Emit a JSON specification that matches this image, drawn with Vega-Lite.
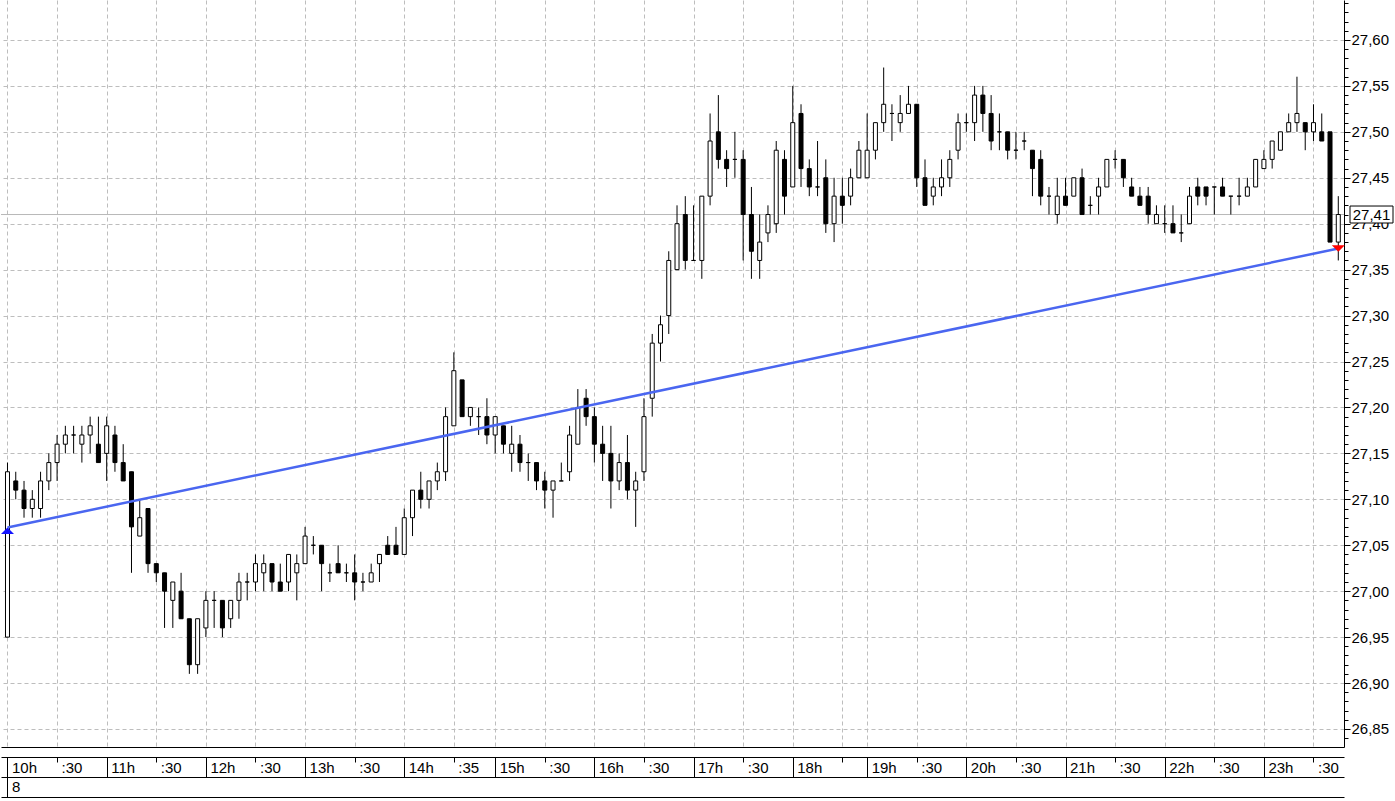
{
 "$schema": "https://vega.github.io/schema/vega-lite/v6.json",
 "width": 1343,
 "height": 747,
 "padding": 0,
 "background": "white",
 "config": {
  "view": {"stroke": null},
  "scale": {"continuousPadding": 0},
  "axis": {"labelFont": "Liberation Sans", "labelFontSize": 15, "labelColor": "#000", "domainColor": "#000", "tickColor": "#000", "gridColor": "#bdbdbd", "gridDash": [4, 3], "title": null, "labelFlush": false, "labelOverlap": false, "zindex": 0}
 },
 "datasets": {
  "candles": [
   {"i":0,"o":26.95,"h":27.14,"l":26.95,"c":27.13},
   {"i":1,"o":27.12,"h":27.13,"l":27.10,"c":27.11},
   {"i":2,"o":27.11,"h":27.12,"l":27.08,"c":27.09},
   {"i":3,"o":27.09,"h":27.11,"l":27.08,"c":27.10},
   {"i":4,"o":27.09,"h":27.13,"l":27.08,"c":27.12},
   {"i":5,"o":27.12,"h":27.15,"l":27.11,"c":27.14},
   {"i":6,"o":27.14,"h":27.17,"l":27.12,"c":27.16},
   {"i":7,"o":27.16,"h":27.18,"l":27.15,"c":27.17},
   {"i":8,"o":27.17,"h":27.18,"l":27.15,"c":27.17},
   {"i":9,"o":27.16,"h":27.18,"l":27.14,"c":27.17},
   {"i":10,"o":27.17,"h":27.19,"l":27.15,"c":27.18},
   {"i":11,"o":27.16,"h":27.19,"l":27.14,"c":27.14},
   {"i":12,"o":27.15,"h":27.19,"l":27.12,"c":27.18},
   {"i":13,"o":27.17,"h":27.18,"l":27.13,"c":27.14},
   {"i":14,"o":27.14,"h":27.16,"l":27.12,"c":27.12},
   {"i":15,"o":27.13,"h":27.13,"l":27.02,"c":27.07},
   {"i":16,"o":27.06,"h":27.10,"l":27.06,"c":27.08},
   {"i":17,"o":27.09,"h":27.09,"l":27.02,"c":27.03},
   {"i":18,"o":27.03,"h":27.03,"l":27.01,"c":27.02},
   {"i":19,"o":27.02,"h":27.02,"l":26.96,"c":27.00},
   {"i":20,"o":26.99,"h":27.01,"l":26.96,"c":27.01},
   {"i":21,"o":27.00,"h":27.02,"l":26.97,"c":26.97},
   {"i":22,"o":26.97,"h":26.97,"l":26.91,"c":26.92},
   {"i":23,"o":26.92,"h":26.97,"l":26.91,"c":26.97},
   {"i":24,"o":26.96,"h":27.00,"l":26.95,"c":26.99},
   {"i":25,"o":26.99,"h":27.00,"l":26.96,"c":26.99},
   {"i":26,"o":26.99,"h":26.99,"l":26.95,"c":26.96},
   {"i":27,"o":26.97,"h":26.99,"l":26.96,"c":26.99},
   {"i":28,"o":26.99,"h":27.02,"l":26.97,"c":27.01},
   {"i":29,"o":27.01,"h":27.02,"l":26.99,"c":27.01},
   {"i":30,"o":27.01,"h":27.04,"l":27.00,"c":27.03},
   {"i":31,"o":27.02,"h":27.04,"l":27.00,"c":27.03},
   {"i":32,"o":27.03,"h":27.03,"l":27.00,"c":27.01},
   {"i":33,"o":27.01,"h":27.03,"l":27.00,"c":27.00},
   {"i":34,"o":27.01,"h":27.04,"l":27.00,"c":27.04},
   {"i":35,"o":27.02,"h":27.04,"l":26.99,"c":27.03},
   {"i":36,"o":27.03,"h":27.07,"l":27.03,"c":27.06},
   {"i":37,"o":27.05,"h":27.06,"l":27.04,"c":27.05},
   {"i":38,"o":27.05,"h":27.05,"l":27.00,"c":27.03},
   {"i":39,"o":27.02,"h":27.03,"l":27.01,"c":27.02},
   {"i":40,"o":27.03,"h":27.05,"l":27.02,"c":27.02},
   {"i":41,"o":27.02,"h":27.03,"l":27.01,"c":27.02},
   {"i":42,"o":27.02,"h":27.04,"l":26.99,"c":27.01},
   {"i":43,"o":27.01,"h":27.02,"l":27.00,"c":27.01},
   {"i":44,"o":27.01,"h":27.03,"l":27.01,"c":27.02},
   {"i":45,"o":27.03,"h":27.04,"l":27.01,"c":27.04},
   {"i":46,"o":27.05,"h":27.06,"l":27.04,"c":27.04},
   {"i":47,"o":27.05,"h":27.07,"l":27.04,"c":27.04},
   {"i":48,"o":27.04,"h":27.09,"l":27.04,"c":27.08},
   {"i":49,"o":27.08,"h":27.11,"l":27.06,"c":27.11},
   {"i":50,"o":27.11,"h":27.13,"l":27.09,"c":27.10},
   {"i":51,"o":27.10,"h":27.12,"l":27.09,"c":27.12},
   {"i":52,"o":27.12,"h":27.14,"l":27.11,"c":27.13},
   {"i":53,"o":27.13,"h":27.20,"l":27.12,"c":27.19},
   {"i":54,"o":27.18,"h":27.26,"l":27.18,"c":27.24},
   {"i":55,"o":27.23,"h":27.23,"l":27.19,"c":27.19},
   {"i":56,"o":27.19,"h":27.20,"l":27.18,"c":27.20},
   {"i":57,"o":27.19,"h":27.20,"l":27.17,"c":27.19},
   {"i":58,"o":27.19,"h":27.21,"l":27.16,"c":27.17},
   {"i":59,"o":27.17,"h":27.19,"l":27.15,"c":27.19},
   {"i":60,"o":27.18,"h":27.18,"l":27.15,"c":27.16},
   {"i":61,"o":27.15,"h":27.18,"l":27.13,"c":27.16},
   {"i":62,"o":27.16,"h":27.17,"l":27.13,"c":27.14},
   {"i":63,"o":27.14,"h":27.15,"l":27.12,"c":27.14},
   {"i":64,"o":27.14,"h":27.14,"l":27.11,"c":27.12},
   {"i":65,"o":27.12,"h":27.13,"l":27.09,"c":27.11},
   {"i":66,"o":27.11,"h":27.12,"l":27.08,"c":27.12},
   {"i":67,"o":27.12,"h":27.14,"l":27.12,"c":27.12},
   {"i":68,"o":27.13,"h":27.18,"l":27.12,"c":27.17},
   {"i":69,"o":27.16,"h":27.22,"l":27.16,"c":27.20},
   {"i":70,"o":27.21,"h":27.22,"l":27.18,"c":27.19},
   {"i":71,"o":27.19,"h":27.20,"l":27.14,"c":27.16},
   {"i":72,"o":27.16,"h":27.18,"l":27.12,"c":27.15},
   {"i":73,"o":27.15,"h":27.18,"l":27.09,"c":27.12},
   {"i":74,"o":27.12,"h":27.15,"l":27.11,"c":27.14},
   {"i":75,"o":27.14,"h":27.17,"l":27.10,"c":27.11},
   {"i":76,"o":27.11,"h":27.13,"l":27.07,"c":27.12},
   {"i":77,"o":27.13,"h":27.21,"l":27.12,"c":27.19},
   {"i":78,"o":27.21,"h":27.28,"l":27.19,"c":27.27},
   {"i":79,"o":27.27,"h":27.30,"l":27.25,"c":27.29},
   {"i":80,"o":27.30,"h":27.37,"l":27.28,"c":27.36},
   {"i":81,"o":27.35,"h":27.42,"l":27.35,"c":27.40},
   {"i":82,"o":27.41,"h":27.43,"l":27.35,"c":27.36},
   {"i":83,"o":27.36,"h":27.42,"l":27.36,"c":27.36},
   {"i":84,"o":27.36,"h":27.43,"l":27.34,"c":27.43},
   {"i":85,"o":27.43,"h":27.52,"l":27.42,"c":27.49},
   {"i":86,"o":27.50,"h":27.54,"l":27.46,"c":27.47},
   {"i":87,"o":27.47,"h":27.48,"l":27.44,"c":27.46},
   {"i":88,"o":27.47,"h":27.50,"l":27.45,"c":27.47},
   {"i":89,"o":27.47,"h":27.48,"l":27.36,"c":27.41},
   {"i":90,"o":27.41,"h":27.44,"l":27.34,"c":27.37},
   {"i":91,"o":27.36,"h":27.41,"l":27.34,"c":27.38},
   {"i":92,"o":27.39,"h":27.42,"l":27.38,"c":27.41},
   {"i":93,"o":27.40,"h":27.49,"l":27.39,"c":27.48},
   {"i":94,"o":27.47,"h":27.48,"l":27.41,"c":27.43},
   {"i":95,"o":27.44,"h":27.55,"l":27.44,"c":27.51},
   {"i":96,"o":27.52,"h":27.53,"l":27.44,"c":27.46},
   {"i":97,"o":27.46,"h":27.47,"l":27.43,"c":27.44},
   {"i":98,"o":27.44,"h":27.49,"l":27.43,"c":27.44},
   {"i":99,"o":27.45,"h":27.47,"l":27.39,"c":27.40},
   {"i":100,"o":27.40,"h":27.45,"l":27.38,"c":27.43},
   {"i":101,"o":27.43,"h":27.45,"l":27.40,"c":27.42},
   {"i":102,"o":27.43,"h":27.46,"l":27.42,"c":27.45},
   {"i":103,"o":27.45,"h":27.49,"l":27.45,"c":27.48},
   {"i":104,"o":27.45,"h":27.52,"l":27.45,"c":27.48},
   {"i":105,"o":27.48,"h":27.51,"l":27.47,"c":27.51},
   {"i":106,"o":27.51,"h":27.57,"l":27.50,"c":27.53},
   {"i":107,"o":27.52,"h":27.53,"l":27.49,"c":27.52},
   {"i":108,"o":27.51,"h":27.54,"l":27.50,"c":27.52},
   {"i":109,"o":27.52,"h":27.55,"l":27.52,"c":27.53},
   {"i":110,"o":27.53,"h":27.53,"l":27.44,"c":27.45},
   {"i":111,"o":27.45,"h":27.47,"l":27.42,"c":27.42},
   {"i":112,"o":27.43,"h":27.45,"l":27.42,"c":27.44},
   {"i":113,"o":27.44,"h":27.47,"l":27.43,"c":27.45},
   {"i":114,"o":27.45,"h":27.48,"l":27.44,"c":27.47},
   {"i":115,"o":27.48,"h":27.52,"l":27.47,"c":27.51},
   {"i":116,"o":27.51,"h":27.52,"l":27.50,"c":27.51},
   {"i":117,"o":27.51,"h":27.55,"l":27.49,"c":27.54},
   {"i":118,"o":27.54,"h":27.55,"l":27.50,"c":27.52},
   {"i":119,"o":27.52,"h":27.54,"l":27.48,"c":27.49},
   {"i":120,"o":27.50,"h":27.52,"l":27.48,"c":27.50},
   {"i":121,"o":27.50,"h":27.50,"l":27.47,"c":27.48},
   {"i":122,"o":27.48,"h":27.50,"l":27.47,"c":27.48},
   {"i":123,"o":27.49,"h":27.50,"l":27.48,"c":27.49},
   {"i":124,"o":27.48,"h":27.48,"l":27.43,"c":27.46},
   {"i":125,"o":27.47,"h":27.48,"l":27.42,"c":27.43},
   {"i":126,"o":27.43,"h":27.44,"l":27.41,"c":27.43},
   {"i":127,"o":27.41,"h":27.45,"l":27.40,"c":27.43},
   {"i":128,"o":27.43,"h":27.45,"l":27.42,"c":27.42},
   {"i":129,"o":27.43,"h":27.45,"l":27.43,"c":27.45},
   {"i":130,"o":27.45,"h":27.46,"l":27.41,"c":27.41},
   {"i":131,"o":27.42,"h":27.43,"l":27.41,"c":27.42},
   {"i":132,"o":27.43,"h":27.45,"l":27.41,"c":27.44},
   {"i":133,"o":27.44,"h":27.47,"l":27.44,"c":27.47},
   {"i":134,"o":27.47,"h":27.48,"l":27.46,"c":27.47},
   {"i":135,"o":27.47,"h":27.47,"l":27.44,"c":27.45},
   {"i":136,"o":27.44,"h":27.45,"l":27.43,"c":27.43},
   {"i":137,"o":27.43,"h":27.44,"l":27.42,"c":27.42},
   {"i":138,"o":27.43,"h":27.44,"l":27.40,"c":27.41},
   {"i":139,"o":27.40,"h":27.42,"l":27.40,"c":27.41},
   {"i":140,"o":27.40,"h":27.42,"l":27.39,"c":27.40},
   {"i":141,"o":27.40,"h":27.42,"l":27.39,"c":27.39},
   {"i":142,"o":27.39,"h":27.41,"l":27.38,"c":27.39},
   {"i":143,"o":27.40,"h":27.44,"l":27.40,"c":27.43},
   {"i":144,"o":27.44,"h":27.45,"l":27.42,"c":27.43},
   {"i":145,"o":27.44,"h":27.44,"l":27.42,"c":27.43},
   {"i":146,"o":27.44,"h":27.44,"l":27.41,"c":27.44},
   {"i":147,"o":27.44,"h":27.45,"l":27.43,"c":27.43},
   {"i":148,"o":27.43,"h":27.43,"l":27.41,"c":27.43},
   {"i":149,"o":27.43,"h":27.45,"l":27.42,"c":27.43},
   {"i":150,"o":27.43,"h":27.45,"l":27.43,"c":27.44},
   {"i":151,"o":27.44,"h":27.47,"l":27.44,"c":27.47},
   {"i":152,"o":27.46,"h":27.48,"l":27.46,"c":27.47},
   {"i":153,"o":27.47,"h":27.49,"l":27.46,"c":27.49},
   {"i":154,"o":27.48,"h":27.50,"l":27.48,"c":27.50},
   {"i":155,"o":27.50,"h":27.52,"l":27.50,"c":27.51},
   {"i":156,"o":27.51,"h":27.56,"l":27.50,"c":27.52},
   {"i":157,"o":27.51,"h":27.51,"l":27.48,"c":27.50},
   {"i":158,"o":27.50,"h":27.53,"l":27.49,"c":27.51},
   {"i":159,"o":27.50,"h":27.52,"l":27.49,"c":27.49},
   {"i":160,"o":27.50,"h":27.50,"l":27.38,"c":27.38},
   {"i":161,"o":27.38,"h":27.43,"l":27.36,"c":27.41}
  ],
  "trend": [{"i": 0, "p": 27.0694}, {"i": 161, "p": 27.373}],
  "last": [{"p": 27.41, "label": "27,41"}]
 },
 "resolve": {"axis": {"x": "independent", "y": "independent"}},
 "layer": [
  {
   "data": {"name": "last"},
   "mark": {"type": "rule", "color": "#b8b8b8", "strokeWidth": 1},
   "encoding": {
    "y": {"field": "p", "type": "quantitative", "scale": {"domain": [26.8304, 27.6435], "nice": false, "zero": false, "padding": 0}, "axis": null}
   }
  },
  {
   "data": {"name": "candles"},
   "mark": {"type": "rule", "color": "#000", "strokeWidth": 1},
   "encoding": {
    "x": {"field": "i", "type": "quantitative", "scale": {"domain": [-0.786, 161.69], "nice": false, "zero": false, "padding": 0},
     "axis": {"orient": "bottom", "values": [0,6,12,18,24,30,36,42,48,54,59,65,71,77,83,89,95,101,104,110,116,122,128,134,140,146,152,158], "grid": true, "ticks": false, "labels": false, "domain": true, "offset": 0}},
    "y": {"field": "l", "type": "quantitative", "scale": {"domain": [26.8304, 27.6435], "nice": false, "zero": false, "padding": 0},
     "axis": {"orient": "right", "values": [26.85,26.9,26.95,27,27.05,27.1,27.15,27.2,27.25,27.3,27.35,27.4,27.45,27.5,27.55,27.6], "tickSize": 6, "labelPadding": 1, "labelAlign": "left", "labelBaseline": "middle", "labelExpr": "replace(format(datum.value, '.2f'), '.', ',')", "grid": true, "domain": true}},
    "y2": {"field": "h"}
   }
  },
  {
   "data": {"name": "candles"},
   "mark": {"type": "bar", "width": 4, "stroke": "#000", "strokeWidth": 1},
   "encoding": {
    "x": {"field": "i", "type": "quantitative", "scale": {"domain": [-0.786, 161.69], "nice": false, "zero": false, "padding": 0},
     "axis": {"orient": "bottom", "values": [0,6,12,18,24,30,36,42,48,54,59,65,71,77,83,89,95,101,104,110,116,122,128,134,140,146,152,158], "grid": false, "offset": 10, "tickSize": 5, "domain": true, "labelAlign": "left", "labelBaseline": "middle", "labelPadding": 5.5, "labelOffset": 4,
      "labelExpr": "['10h',':30','11h',':30','12h',':30','13h',':30','14h',':35','15h',':30','16h',':30','17h',':30','18h','','19h',':30','20h',':30','21h',':30','22h',':30','23h',':30'][indexof([0,6,12,18,24,30,36,42,48,54,59,65,71,77,83,89,95,101,104,110,116,122,128,134,140,146,152,158], datum.value)]"}},
    "y": {"field": "o", "type": "quantitative", "scale": {"domain": [26.8304, 27.6435], "nice": false, "zero": false, "padding": 0},
     "axis": {"orient": "right", "values": [26.84,26.85,26.86,26.87,26.88,26.89,26.9,26.91,26.92,26.93,26.94,26.95,26.96,26.97,26.98,26.99,27,27.01,27.02,27.03,27.04,27.05,27.06,27.07,27.08,27.09,27.1,27.11,27.12,27.13,27.14,27.15,27.16,27.17,27.18,27.19,27.2,27.21,27.22,27.23,27.24,27.25,27.26,27.27,27.28,27.29,27.3,27.31,27.32,27.33,27.34,27.35,27.36,27.37,27.38,27.39,27.4,27.41,27.42,27.43,27.44,27.45,27.46,27.47,27.48,27.49,27.5,27.51,27.52,27.53,27.54,27.55,27.56,27.57,27.58,27.59,27.6,27.61,27.62,27.63,27.64], "tickSize": 4, "labels": false, "domain": false, "grid": false}},
    "y2": {"field": "c"},
    "fill": {"condition": {"test": "datum.c >= datum.o", "value": "#ffffff"}, "value": "#000000"}
   }
  },
  {
   "data": {"name": "trend"},
   "mark": {"type": "line", "color": "#4a66f0", "strokeWidth": 2.5},
   "encoding": {
    "x": {"field": "i", "type": "quantitative", "scale": {"domain": [-0.786, 161.69], "nice": false, "zero": false, "padding": 0},
     "axis": {"orient": "bottom", "values": [0,12,24,36,48,59,71,83,95,104,116,128,140,152], "offset": 10, "tickSize": 20, "labels": false, "domain": false, "grid": false}},
    "y": {"field": "p", "type": "quantitative", "scale": {"domain": [26.8304, 27.6435], "nice": false, "zero": false, "padding": 0}, "axis": null}
   }
  },
  {
   "data": {"name": "trend"},
   "transform": [{"filter": "datum.i == 0"}],
   "mark": {"type": "point", "shape": "M0,0L1,1L-1,1Z", "size": 169, "filled": true, "color": "#1414ff", "opacity": 1},
   "encoding": {
    "x": {"field": "i", "type": "quantitative", "scale": {"domain": [-0.786, 161.69], "nice": false, "zero": false, "padding": 0},
     "axis": {"orient": "bottom", "values": [0], "offset": 30, "tickSize": 20, "domain": true, "grid": false, "labelExpr": "'8'", "labelAlign": "left", "labelBaseline": "middle", "labelPadding": -11, "labelOffset": 4}},
    "y": {"field": "p", "type": "quantitative", "scale": {"domain": [26.8304, 27.6435], "nice": false, "zero": false, "padding": 0}, "axis": null}
   }
  },
  {
   "data": {"name": "trend"},
   "transform": [{"filter": "datum.i == 161"}],
   "mark": {"type": "point", "shape": "M-1,-0.5L1,-0.5L0,0.5Z", "size": 169, "filled": true, "color": "#ff0000", "opacity": 1},
   "encoding": {
    "x": {"field": "i", "type": "quantitative", "scale": {"domain": [-0.786, 161.69], "nice": false, "zero": false, "padding": 0},
     "axis": {"orient": "bottom", "values": [0], "offset": 50, "ticks": false, "labels": false, "domain": true, "grid": false}},
    "y": {"field": "p", "type": "quantitative", "scale": {"domain": [26.8304, 27.6435], "nice": false, "zero": false, "padding": 0}, "axis": null}
   }
  },
  {
   "data": {"name": "last"},
   "mark": {"type": "point", "shape": "M-1,-0.395H1V0.395H-1Z", "size": 1849, "fill": "#ffffff", "stroke": "#000000", "strokeWidth": 1, "opacity": 1, "fillOpacity": 1, "xOffset": 27.5},
   "encoding": {
    "x": {"datum": 161.69, "type": "quantitative", "scale": {"domain": [-0.786, 161.69], "nice": false, "zero": false, "padding": 0}, "axis": null},
    "y": {"field": "p", "type": "quantitative", "scale": {"domain": [26.8304, 27.6435], "nice": false, "zero": false, "padding": 0}, "axis": null}
   }
  },
  {
   "data": {"name": "last"},
   "mark": {"type": "text", "font": "Liberation Sans", "fontSize": 15, "align": "center", "baseline": "middle", "dx": 27.5, "color": "#000"},
   "encoding": {
    "x": {"datum": 161.69, "type": "quantitative", "scale": {"domain": [-0.786, 161.69], "nice": false, "zero": false, "padding": 0}, "axis": null},
    "y": {"field": "p", "type": "quantitative", "scale": {"domain": [26.8304, 27.6435], "nice": false, "zero": false, "padding": 0}, "axis": null},
    "text": {"field": "label"}
   }
  }
 ]
}
